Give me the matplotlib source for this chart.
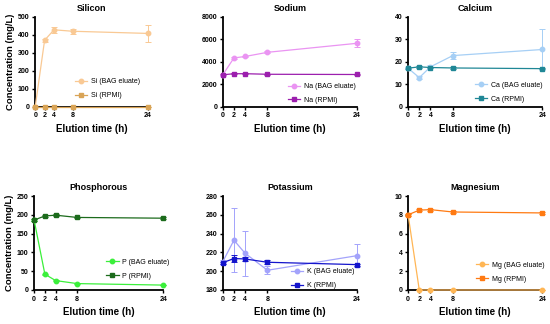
import matplotlib

matplotlib.use("Agg")
import matplotlib.pyplot as plt

plt.rcParams["font.family"] = ["Liberation Sans", "DejaVu Sans"]

hours = [0, 2, 4, 8, 24]

si_bag = [0, 370, 428, 420, 408]
si_bag_err = [0, 8, 18, 15, 45]
si_rpmi = [0, 0, 0, 0, 0]
si_rpmi_err = [0, 0, 0, 0, 0]

na_bag = [2850, 4350, 4480, 4850, 5650]
na_bag_err = [60, 80, 80, 90, 350]
na_rpmi = [2850, 2950, 2950, 2900, 2880]
na_rpmi_err = [40, 40, 40, 40, 40]

ca_bag = [17.2, 13.0, 17.8, 22.8, 25.5]
ca_bag_err = [0.5, 0.6, 0.6, 1.6, 9.0]
ca_rpmi = [17.2, 17.8, 17.5, 17.3, 17.0]
ca_rpmi_err = [0.3, 0.3, 0.3, 0.3, 0.3]

p_bag = [186, 42, 25, 17, 13]
p_bag_err = [2, 1, 1, 1, 1]
p_rpmi = [186, 197, 199, 193, 191]
p_rpmi_err = [2, 2, 2, 2, 2]

k_bag = [210, 233, 219, 201, 216.5]
k_bag_err = [2, 34, 24, 4, 12]
k_rpmi = [209, 213.5, 213, 209.5, 207]
k_rpmi_err = [1, 4, 2, 2, 1]

mg_bag = [8.0, 0, 0, 0, 0]
mg_bag_err = [0.1, 0, 0, 0, 0]
mg_rpmi = [8.0, 8.5, 8.55, 8.3, 8.2]
mg_rpmi_err = [0.1, 0.1, 0.1, 0.1, 0.1]

panels = [
    ("Silicon", "Si", si_bag, si_bag_err, si_rpmi, si_rpmi_err, "#f9c994", "#d9a456", 500, 100),
    ("Sodium", "Na", na_bag, na_bag_err, na_rpmi, na_rpmi_err, "#ea94f2", "#9c1fae", 8000, 2000),
    ("Calcium", "Ca", ca_bag, ca_bag_err, ca_rpmi, ca_rpmi_err, "#a6cff5", "#1f8796", 40, 10),
    ("Phosphorous", "P", p_bag, p_bag_err, p_rpmi, p_rpmi_err, "#3bef3b", "#1c6b1c", 250, 50),
    ("Potassium", "K", k_bag, k_bag_err, k_rpmi, k_rpmi_err, "#a3a3fb", "#1414cc", 280, 20),
    ("Magnesium", "Mg", mg_bag, mg_bag_err, mg_rpmi, mg_rpmi_err, "#ffb655", "#ff7a12", 10, 2),
]

ymins = [0, 0, 0, 0, 180, 0]

# axes rectangles in figure fractions (left, bottom, width, height)
rects = [
    (0.064, 0.670, 0.205, 0.278),
    (0.405, 0.670, 0.244, 0.278),
    (0.742, 0.670, 0.244, 0.278),
    (0.062, 0.105, 0.235, 0.290),
    (0.405, 0.105, 0.244, 0.290),
    (0.742, 0.105, 0.244, 0.290),
]

# legend anchor (axes fraction, center-left)
legend_at = [(0.32, 0.20), (0.46, 0.15), (0.47, 0.165),
             (0.53, 0.22), (0.48, 0.12), (0.48, 0.19)]

fig = plt.figure(figsize=(5.5, 3.24), dpi=100)

for i, (title, sym, bag, bag_err, rpmi, rpmi_err, c_bag, c_rpmi, ymax, ystep) in enumerate(panels):
    ax = fig.add_axes(rects[i])
    ax.errorbar(hours, bag, yerr=bag_err, color=c_bag, marker="o", ms=3.2, lw=0.9,
                capsize=2, elinewidth=0.7, capthick=0.7, clip_on=False,
                label=f"{sym} (BAG eluate)", zorder=3)
    ax.errorbar(hours, rpmi, yerr=rpmi_err, color=c_rpmi, marker="s", ms=3.2, lw=0.9,
                capsize=2, elinewidth=0.7, capthick=0.7, clip_on=False,
                label=f"{sym} (RPMI)", zorder=3)
    ymin = ymins[i]
    ax.set_xlim(0, 24)
    ax.set_ylim(ymin, ymax)
    ax.set_xticks(hours)
    ax.set_yticks(range(ymin, ymax + 1, ystep))
    ax.spines["top"].set_visible(False)
    ax.spines["right"].set_visible(False)
    ax.spines["left"].set_linewidth(1.3)
    ax.spines["bottom"].set_linewidth(1.3)
    ax.tick_params(length=2.5, width=1, labelsize=5, pad=1.5)
    for lab in ax.get_xticklabels() + ax.get_yticklabels():
        lab.set_fontweight("bold")
    ax.set_title(title, fontsize=6.5, fontweight="bold", pad=4)
    ax.set_xlabel("Elution time (h)", fontsize=7, fontweight="bold", labelpad=3)
    if i % 3 == 0:
        ax.set_ylabel("Concentration (mg/L)", fontsize=6.8, fontweight="bold", labelpad=2)
    handles, labels = ax.get_legend_handles_labels()
    handles = [h[0] for h in handles]
    ax.legend(handles, labels, loc="center left", bbox_to_anchor=legend_at[i], frameon=False,
              fontsize=5.0, handlelength=1.8, handletextpad=0.5, labelspacing=1.0,
              borderpad=0)

fig.savefig("out.png", dpi=100)
